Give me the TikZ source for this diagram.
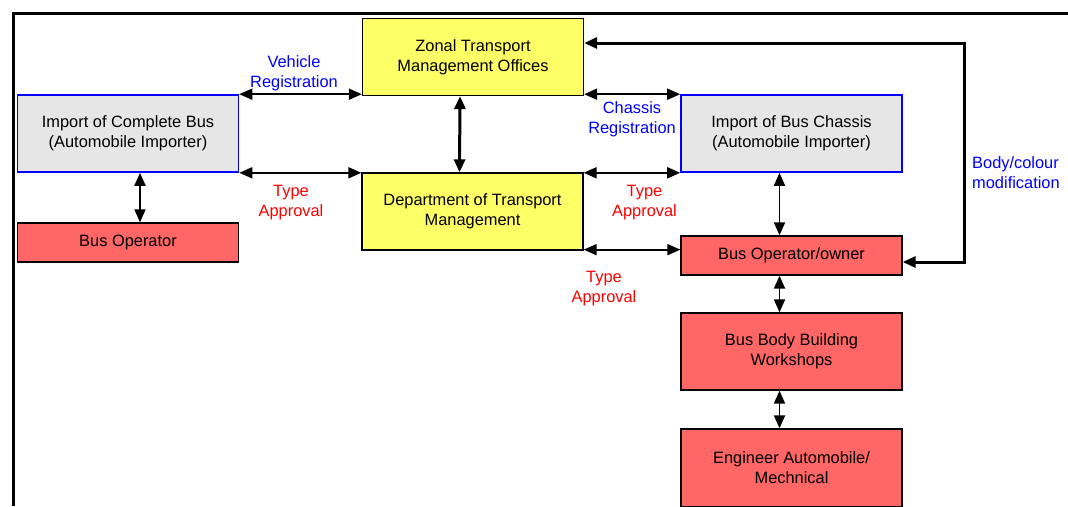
\documentclass[tikz,border=0pt]{standalone}
\usepackage{fontspec}
\setmainfont{Liberation Sans}
\usepackage{xcolor}
\usepackage{tikz}
\usetikzlibrary{arrows.meta}

\definecolor{officeyellow}{RGB}{255,255,102}
\definecolor{officered}{RGB}{255,102,102}
\definecolor{importgrey}{RGB}{230,230,230}

\begin{document}
\begin{tikzpicture}[x=1pt, y=-1pt,
    font=\fontsize{16.4}{20}\selectfont,
    >={Triangle[length=13pt, width=11pt]},
    box/.style={draw, line width=1.3pt, align=center, inner sep=0pt, minimum width=221pt},
    office/.style={box, fill=officeyellow, minimum height=77pt},
    importer/.style={box, draw=blue, line width=1.6pt, fill=importgrey, minimum height=77pt},
    user/.style={box, fill=officered, minimum height=39pt},
    link/.style={<->, line width=1.8pt},
    biglink/.style={<->, line width=3pt}]
    \useasboundingbox (0,0) rectangle (1068,506);
    \draw[line width=3pt] (13,506) -- (13,13) -- (1068,13);

    \node[office] (Zon) at (473,57) {Zonal Transport\\Management Offices};
    \node[office] (Dep) at (472.5,211.5) {Department of Transport\\Management};
    \node[importer] (Imp) at (128,133.5) {Import of Complete Bus\\(Automobile Importer)};
    \node[user] (Ope) at (128,242.5) {Bus Operator};
    \node[importer] (Cha) at (791.5,133.5) {Import of Bus Chassis\\(Automobile Importer)};
    \node[user] (Own) at (791.5,255.5) {Bus Operator/owner};
    \node[user, minimum height=77pt] (Bod) at (791.5,351.5) {Bus Body Building\\Workshops};
    \node[user, minimum height=78pt] (Eng) at (791.5,468) {Engineer Automobile/\\Mechnical};

    \draw [link] (Imp.north east) -- (Imp.north east -| Zon.west);
    \draw [link] (Imp.south east) -- (Imp.south east -| Dep.west);
    \draw [link] ([xshift=12pt]Imp.south) -- ([xshift=12pt]Ope.north);
    \draw [biglink] ([xshift=-13pt]Zon.south) -- ([xshift=-13pt]Dep.north);
    \draw [link] (Cha.north west -| Zon.east) -- (Cha.north west);
    \draw [link] (Cha.south west -| Dep.east) -- (Cha.south west);
    \draw [link] ([yshift=1pt]Dep.south east) -- ([yshift=1pt]Dep.south east -| Own.west);
    \draw [link] ([xshift=-12pt]Cha.south) -- ([xshift=-12pt]Own.north);
    \draw [link] ([xshift=-12pt]Own.south) -- ([xshift=-12pt]Bod.north);
    \draw [link] ([xshift=-12pt]Bod.south) -- ([xshift=-12pt]Eng.north);

    \coordinate (Turn) at (964,43);
    \draw [biglink] (Turn -| Zon.east) -- (Turn) |- ([yshift=-6.5pt]Own.east);

    \node[blue, align=center] (VehReg) at (294,73) {Vehicle\\Registration};
    \node[red, align=center] (TypImp) at (291,202.5) {Type\\Approval};
    \node[blue, align=center] (ChaReg) at (632,119.5) {Chassis\\Registration};
    \node[red, align=center] (TypCha) at (644.5,202.5) {Type\\Approval};
    \node[red, align=center] (TypOwn) at (604,288.5) {Type\\Approval};
    \node[blue, align=left, anchor=west, inner sep=0pt] (BodMod) at (972,172.5) {Body/colour\\modification};
  \end{tikzpicture}
\end{document}
